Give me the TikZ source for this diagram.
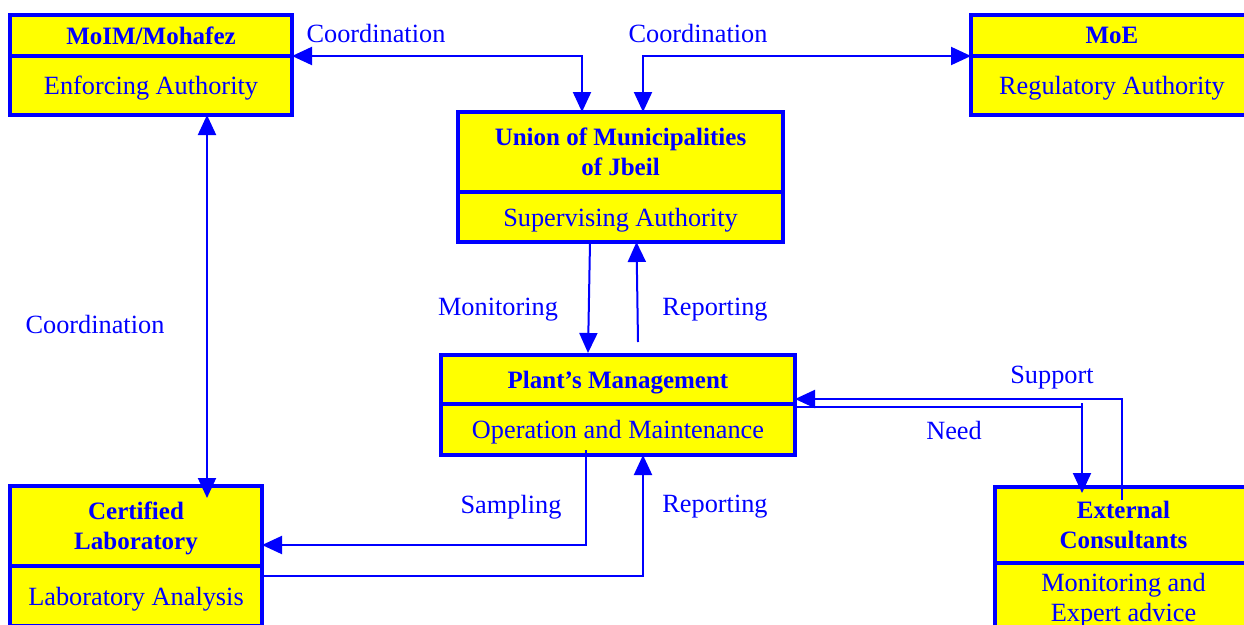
\documentclass[tikz,border=0pt]{standalone}
\usepackage{fontspec}
\setmainfont{Liberation Serif}
\usetikzlibrary{arrows.meta,shadows}
\definecolor{yel}{RGB}{255,255,0}
\definecolor{blu}{RGB}{0,0,255}
\newcommand\hdrfont{\fontsize{25}{30}\selectfont\bfseries}
\newcommand\bdyfont{\fontsize{26.3}{30}\selectfont}
\tikzset{
  boxbase/.style={draw=blu, fill=yel, line width=3.5pt, inner sep=0pt, outer sep=0pt, text=blu, align=center,
    drop shadow={shadow xshift=1.5pt, shadow yshift=-1.5pt, fill=blu, opacity=1}},
  hdr/.style={boxbase, font=\hdrfont},
  bdy/.style={boxbase, font=\bdyfont, text depth=0pt},
  lbl/.style={text=blu, font=\bdyfont, inner sep=0pt, text depth=0pt},
  conn/.style={draw=blu, line width=2pt},
  >={Triangle[length=20pt,width=18pt]}
}
\begin{document}
\begin{tikzpicture}[x=1pt,y=-1pt]
\clip (0,0) rectangle (1244,624);
\fill[white] (0,0) rectangle (1244,624);
% boxes
\node[hdr, minimum width=282, minimum height=41] (moimT) at (151,35.5) {MoIM/Mohafez};
\node[bdy, minimum width=282, minimum height=59] (moimB) at (151,85.5) {Enforcing Authority};
\node[hdr, minimum width=282, minimum height=41] (moeT) at (1112,35.5) {MoE};
\node[bdy, minimum width=282, minimum height=59] (moeB) at (1112,85.5) {Regulatory Authority};
\node[hdr, minimum width=325, minimum height=80] (unionT) at (620.5,152) {Union of Municipalities\\of Jbeil};
\node[bdy, minimum width=325, minimum height=50] (unionB) at (620.5,217) {Supervising Authority};
\node[hdr, minimum width=354, minimum height=49, text depth=0pt] (plantT) at (618,379.5) {Plant’s Management};
\node[bdy, minimum width=354, minimum height=51] (plantB) at (618,429.5) {Operation and Maintenance};
\node[hdr, minimum width=252, minimum height=80, text depth=0pt] (labT) at (136,526) {Certified\\Laboratory};
\node[bdy, minimum width=252, minimum height=60] (labB) at (136,596) {Laboratory Analysis};
\node[hdr, minimum width=257, minimum height=76] (extT) at (1123.5,525) {External\\Consultants};
\node[bdy, minimum width=257, minimum height=68] (extB) at (1123.5,597) {Monitoring and\\Expert advice};
% labels
\node[lbl] (lc1) at (376,33) {Coordination};
\node[lbl] (lc2) at (698,33) {Coordination};
\node[lbl] (lc3) at (95,324) {Coordination};
\node[lbl] (lmon) at (498,307) {Monitoring};
\node[lbl] (lrep1) at (715,307) {Reporting};
\node[lbl] (lsam) at (511,504) {Sampling};
\node[lbl] (lrep2) at (715,504) {Reporting};
\node[lbl] (lsup) at (1052,375) {Support};
\node[lbl] (lneed) at (954,430) {Need};
% coordinates for bends
\coordinate (c1) at (582,56);
\coordinate (c2) at (643,56);
\coordinate (c3) at (207,498);
\coordinate (s1) at (586,545);
\coordinate (r1) at (643,576);
\coordinate (su0) at (1122,500);
\coordinate (su) at (1122,399);
\coordinate (nd) at (1082,407);
\coordinate (nd0) at (1082,403);
\coordinate (nd1) at (1082,493);
% connectors
\draw[conn,<->] (moimB.north east) -- (c1) -- (c1 |- unionT.north);
\draw[conn,<->] (moeB.north west) -- (c2) -- (c2 |- unionT.north);
\draw[conn,<->] (c3 |- moimB.south) -- (c3);
\draw[conn,->] ([xshift=-30.5pt]unionB.south) -- ([xshift=-30pt,yshift=2pt]plantT.north);
\draw[conn,->] ([xshift=20pt,yshift=13pt]plantT.north) -- ([xshift=16pt]unionB.south);
\draw[conn,->] ([xshift=-32pt,yshift=5pt]plantB.south) -- (s1) -- (s1 -| labT.east);
\draw[conn,->] (r1 -| labB.east) -- (r1) -- (r1 |- plantB.south);
\draw[conn,->] (su0) -- (su) -- (su -| plantT.east);
\draw[conn,->] (nd -| plantB.east) -- (nd) -- (nd1);
\draw[conn] (nd0) -- (nd);
\end{tikzpicture}
\end{document}
